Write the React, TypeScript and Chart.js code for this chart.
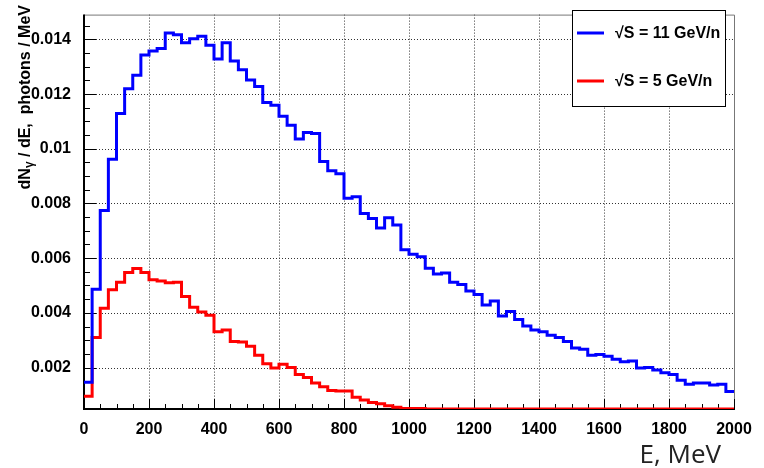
import React, { useEffect, useRef } from "react";
import { Chart, registerables } from "chart.js";

Chart.register(...registerables);

const BIN_WIDTH = 25; // MeV
const X_MIN = 0;
const X_MAX = 2000;
const Y_MIN = 0.000482;
const Y_MAX = 0.01491;

const SERIES_LABELS = ["√S = 11 GeV/n", "√S = 5 GeV/n"];
const X_TITLE = "E, MeV";
const Y_TITLE_PARTS = ["dN", "γ", " / dE,  photons / MeV"];

const blue11 = [
  0.00146, 0.00486, 0.00774, 0.00962, 0.01129, 0.0122, 0.01269, 0.01343, 0.01358, 0.01367,
  0.01424, 0.01417, 0.01388, 0.01403, 0.01412, 0.01379, 0.01329, 0.01388, 0.01321, 0.01289,
  0.01252, 0.01228, 0.01169, 0.01159, 0.01119, 0.01086, 0.01036, 0.0106, 0.01056, 0.00954,
  0.0092, 0.00909, 0.00819, 0.00825, 0.00763, 0.00745, 0.0071, 0.00748, 0.00721, 0.00631,
  0.00614, 0.00605, 0.00563, 0.00542, 0.00546, 0.00512, 0.00504, 0.0048, 0.00467, 0.00429,
  0.00443, 0.00388, 0.00405, 0.00376, 0.00352, 0.00337, 0.00331, 0.00318, 0.0031, 0.00295,
  0.00271, 0.00267, 0.00245, 0.00248, 0.00241, 0.0023, 0.00221, 0.00224, 0.00198, 0.002,
  0.00191, 0.00181, 0.00174, 0.00153, 0.00139, 0.00143, 0.00143, 0.00136, 0.00139, 0.00112,
];

const red5 = [
  0.00095, 0.0031, 0.00417, 0.00484, 0.00512, 0.00548, 0.00562, 0.00548, 0.00521, 0.00516,
  0.0051, 0.00512, 0.0046, 0.0042, 0.00403, 0.00391, 0.00331, 0.00337, 0.00295, 0.00293,
  0.00278, 0.00245, 0.00214, 0.00198, 0.00212, 0.002, 0.00174, 0.00163, 0.00143, 0.0013,
  0.00116, 0.00114, 0.00114, 0.00091, 0.00081, 0.00072, 0.00067, 0.0006, 0.00055, 0.0005,
  0.0005, 0.0005, 0.00048, 0.00048, 0.00048, 0.00048, 0.00048, 0.00048, 0.00048, 0.00048,
  0.00048, 0.00048, 0.00048, 0.00048, 0.00048, 0.00048, 0.00048, 0.00048, 0.00048, 0.00048,
  0.00048, 0.00048, 0.00048, 0.00048, 0.00048, 0.00048, 0.00048, 0.00048, 0.00048, 0.00048,
  0.00048, 0.00048, 0.00048, 0.00048, 0.00048, 0.00048, 0.00048, 0.00048, 0.00048, 0.00048,
];

const COLORS = ["#0000ff", "#ff0000"];

function histPoints(values: number[]) {
  const pts = values.map((v, i) => ({ x: X_MIN + i * BIN_WIDTH, y: v }));
  pts.push({ x: X_MIN + values.length * BIN_WIDTH, y: values[values.length - 1] });
  return pts;
}

const TICK_FONT = { family: "'Liberation Sans', Arial, sans-serif", size: 16, weight: "bold" as const };

const framePlugin = {
  id: "rootFrame",
  beforeDatasetsDraw(chart: any) {
    const { ctx, chartArea: a } = chart;
    const xs = chart.scales.x;
    const ys = chart.scales.y;
    ctx.save();
    // dotted grid
    ctx.setLineDash([1, 2]);
    ctx.strokeStyle = "#333";
    ctx.lineWidth = 1;
    for (const t of xs.ticks) {
      if (t.value <= X_MIN || t.value >= X_MAX) continue;
      const px = Math.round(xs.getPixelForValue(t.value)) + 0.5;
      ctx.beginPath();
      ctx.moveTo(px, a.top);
      ctx.lineTo(px, a.bottom);
      ctx.stroke();
    }
    for (const t of ys.ticks) {
      const py = Math.round(ys.getPixelForValue(t.value)) + 0.5;
      ctx.beginPath();
      ctx.moveTo(a.left, py);
      ctx.lineTo(a.right, py);
      ctx.stroke();
    }
    ctx.setLineDash([]);
    // top / right frame
    ctx.strokeStyle = "#777";
    ctx.lineWidth = 1;
    ctx.beginPath();
    ctx.moveTo(a.left, a.top + 0.5);
    ctx.lineTo(a.right + 0.5, a.top + 0.5);
    ctx.lineTo(a.right + 0.5, a.bottom);
    ctx.stroke();
    // ticks
    ctx.strokeStyle = "#000";
    ctx.lineWidth = 1;
    for (let v = X_MIN; v <= X_MAX + 1e-9; v += 50) {
      const major = Math.abs(v % 200) < 1e-6;
      const px = Math.round(xs.getPixelForValue(v)) + 0.5;
      ctx.beginPath();
      ctx.moveTo(px, a.bottom);
      ctx.lineTo(px, a.bottom - (major ? 10 : 5));
      ctx.stroke();
    }
    const ystep = 0.0005;
    for (let k = Math.ceil(Y_MIN / ystep); k * ystep <= Y_MAX; k++) {
      const v = k * ystep;
      const major = k % 4 === 0;
      const py = Math.round(ys.getPixelForValue(v)) + 0.5;
      ctx.beginPath();
      ctx.moveTo(a.left, py);
      ctx.lineTo(a.left + (major ? 12 : 6), py);
      ctx.stroke();
    }
    // left / bottom axes
    ctx.lineWidth = 2;
    ctx.beginPath();
    ctx.moveTo(a.left, a.top);
    ctx.lineTo(a.left, a.bottom);
    ctx.lineTo(a.right + 1, a.bottom);
    ctx.stroke();
    ctx.restore();
  },
  afterDraw(chart: any) {
    const { ctx, chartArea: a } = chart;
    ctx.save();
    // y title with subscript (text ends near the top of the canvas)
    ctx.translate(30, 0);
    ctx.rotate(-Math.PI / 2);
    ctx.fillStyle = "#000";
    ctx.textBaseline = "alphabetic";
    const big = "bold 16px 'Liberation Sans', Arial, sans-serif";
    const small = "bold 12px 'Liberation Sans', Arial, sans-serif";
    ctx.font = big;
    const w0 = ctx.measureText(Y_TITLE_PARTS[0]).width;
    const w2 = ctx.measureText(Y_TITLE_PARTS[2]).width;
    ctx.font = small;
    const w1 = ctx.measureText(Y_TITLE_PARTS[1]).width;
    let x = -5 - (w0 + w1 + w2);
    ctx.font = big;
    ctx.fillText(Y_TITLE_PARTS[0], x, 0);
    x += w0;
    ctx.font = small;
    ctx.fillText(Y_TITLE_PARTS[1], x, 3);
    x += w1;
    ctx.font = big;
    ctx.fillText(Y_TITLE_PARTS[2], x, 0);
    ctx.restore();

    // x title
    ctx.save();
    ctx.font = "26px 'Open Sans', 'Liberation Sans', sans-serif";
    ctx.fillStyle = "#222";
    ctx.textAlign = "right";
    ctx.textBaseline = "alphabetic";
    ctx.fillText(X_TITLE, a.right - 13, 463);
    ctx.restore();

    // legend box
    ctx.save();
    const bx = 572, by = 10, bw = 154, bh = 97;
    ctx.fillStyle = "#fff";
    ctx.fillRect(bx, by, bw, bh);
    ctx.strokeStyle = "#000";
    ctx.lineWidth = 1;
    ctx.strokeRect(bx + 0.5, by + 0.5, bw - 1, bh - 1);
    const rows = [33, 81];
    chart.data.datasets.forEach((ds: any, i: number) => {
      const yy = rows[i];
      ctx.strokeStyle = ds.borderColor;
      ctx.lineWidth = 3;
      ctx.beginPath();
      ctx.moveTo(bx + 5, yy);
      ctx.lineTo(bx + 32, yy);
      ctx.stroke();
      ctx.fillStyle = "#000";
      ctx.font = "bold 16px 'Liberation Sans', Arial, sans-serif";
      ctx.textBaseline = "middle";
      ctx.textAlign = "left";
      ctx.fillText(ds.label, bx + 43, yy + 1);
    });
    ctx.restore();
  },
};

export default function App() {
  const ref = useRef<HTMLCanvasElement | null>(null);
  useEffect(() => {
    if (!ref.current) return;
    const chart = new Chart(ref.current, {
      type: "line",
      data: {
        datasets: [blue11, red5].map((vals, i) => ({
          label: SERIES_LABELS[i],
          data: histPoints(vals),
          borderColor: COLORS[i],
          backgroundColor: COLORS[i],
          borderWidth: 3,
          stepped: "before" as const,
          pointRadius: 0,
          fill: false,
          borderJoinStyle: "miter" as const,
          borderCapStyle: "butt" as const,
        })),
      },
      options: {
        responsive: false,
        animation: false,
        layout: { padding: { left: 0, top: 5, right: 30, bottom: 0 } },
        plugins: { legend: { display: false }, tooltip: { enabled: false } },
        scales: {
          x: {
            type: "linear",
            min: X_MIN,
            max: X_MAX,
            grid: { display: false },
            border: { display: false },
            afterFit: (s: any) => { s.height = 59; },
            ticks: {
              stepSize: 200,
              padding: 3,
              maxRotation: 0,
              autoSkip: false,
              color: "#000",
              font: TICK_FONT,
              callback: (v: any) => String(v),
            },
          },
          y: {
            type: "linear",
            min: Y_MIN,
            max: Y_MAX,
            grid: { display: false },
            border: { display: false },
            afterFit: (s: any) => { s.width = 84; },
            ticks: {
              stepSize: 0.002,
              includeBounds: false,
              padding: 5,
              color: "#000",
              font: TICK_FONT,
              callback: (v: any) => String(Number(Number(v).toFixed(4))),
            },
          },
        },
      },
      plugins: [framePlugin],
    });
    return () => chart.destroy();
  }, []);
  return (
    <div style={{ position: "fixed", left: 0, top: 0, width: 764, height: 468, background: "#fff" }}>
      <canvas ref={ref} width={764} height={468} />
    </div>
  );
}
